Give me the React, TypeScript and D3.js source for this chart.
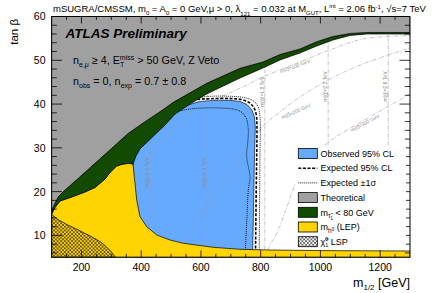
import React, { useRef, useEffect } from 'react';
import * as d3 from 'd3';

type Pt = [number, number]; // [m1/2 (GeV), tan beta]

const xTicks = [200, 400, 600, 800, 1000, 1200];
const yTicks = [10, 20, 30, 40, 50, 60];

// upper edge of the stau < 80 GeV band (above it: theoretically excluded)
const greenUpper: Pt[] = [
    [100, 15.42], [105.7, 16.56], [122.4, 18.84], [144.9, 20.37], [189.4, 23.04], [245.3, 26.47],
    [301.2, 29.9], [356.8, 33.32], [412.7, 35.97], [479.7, 39.03], [507.4, 40.4], [619.3, 44.74],
    [730.8, 48.17], [807.8, 49.61], [864.7, 51.32], [931.7, 52.58], [987.6, 54.24], [1042, 55.43],
    [1099, 56.12], [1155, 56.35], [1300, 56.35],
];

// lower edge of the stau band
const greenLower: Pt[] = [
    [100, 14.89], [111.4, 16.37], [128.1, 17.86], [167.3, 18.77], [211.8, 19.92], [245.3, 20.94],
    [278.8, 22.88], [295.5, 24.37], [318, 25.85], [335.7, 26.24], [356.8, 26.47], [372.5, 26.31],
    [382.6, 28.14], [396, 29.74], [439.5, 32.59], [479.7, 35.22], [513.7, 37.73], [563.9, 40.02],
    [619.3, 42.3], [730.8, 45.95], [807.8, 48.24], [864.7, 50.07], [931.7, 51.66], [987.6, 53.26],
    [1042, 54.63], [1099, 55.66], [1155, 56.0], [1300, 56.0],
];

// LEP higgs limit, edge from the stau band down to the right frame
const lepEdge: Pt[] = [
    [376.9, 23.41], [384.9, 18.09], [396, 14.27], [418.4, 11.99], [451.9, 10.09], [496.4, 8.95],
    [540.9, 8.2], [641.4, 7.28], [730.8, 6.83], [831.2, 6.67], [998.6, 6.53], [1300, 6.44],
];

// neutralino LSP region edge
const lspEdge: Pt[] = [
    [100, 14.78], [121.4, 13.63], [150.6, 12.49], [189.4, 11.24], [228.6, 9.87], [262, 8.61],
    [282.1, 7.47], [298.9, 6.32], [313.9, 5],
];

// observed 95% CL excluded region
const observed: Pt[] = [
    [372.5, 26.6], [382.6, 28.5], [396, 30.1], [439.5, 33.0], [479.7, 35.6], [513.7, 38.1],
    [546.6, 39.6], [596.8, 40.59], [647, 40.86], [697.3, 40.86], [730.8, 40.59], [754.3, 39.9],
    [770.6, 38.64], [779.3, 37.05], [782, 34.76], [780.3, 30.65], [778.3, 24.94], [776.6, 18.09],
    [774.6, 11.24], [773.3, 6.9], [773.3, 5], [372.5, 5],
];

const expected: Pt[] = [
    [546.6, 39.67], [580.1, 40.93], [630.3, 41.22], [697.3, 41.27], [737.5, 41.0], [762.3, 40.3],
    [778, 39.1], [786, 37.27], [787.5, 34.76], [787, 29.51], [785.5, 22.66], [784.3, 15.8],
    [783.2, 8.95], [782.8, 5],
];

const expectedUp: Pt[] = [
    [563.9, 40.93], [614.1, 41.68], [697.3, 41.78], [747.5, 41.45], [776, 40.7], [791.5, 39.33],
    [797.5, 37.27], [799, 34.76], [797.8, 29.51], [797, 22.66], [796.2, 15.8], [795.4, 8.95],
    [795, 5],
];

const expectedDown: Pt[] = [
    [496.4, 37.96], [563.9, 38.87], [607.4, 39.1], [664.3, 39.1], [714.5, 38.76], [737.5, 38.07],
    [752.5, 36.59], [758.6, 34.08], [757.5, 31.79], [753.2, 27.98], [764.2, 23.41], [758.6, 20.37],
    [753.2, 12.83], [749.2, 7.35], [747.5, 5],
];

// iso-mass contours
const gluinoMass = [430, 621, 814, 1026, 1227];
const gluinoText = ['m(g\u0303)=1.0 TeV', 'm(g\u0303)=1.4 TeV', 'm(g\u0303)=1.8 TeV', 'm(g\u0303)=2.2 TeV', 'm(g\u0303)=2.6 TeV'];
const gluinoTextTb = [24.3, 24.3, 42.8, 44.0, 44.0];

const slepton100: Pt[] = [
    [372.5, 24.03], [422.7, 28.37], [473, 31.79], [529.9, 36.36], [586.8, 39.33], [663.8, 41.61],
    [730.8, 43.6], [807.8, 46.18], [921.6, 49.38], [1032.1, 52.35], [1142.6, 54.86], [1300, 55.66],
];
const slepton200: Pt[] = [
    [540, 7.81], [580.1, 12.38], [630.3, 18.09], [680.5, 23.11], [730.8, 27.68], [781, 32.48],
    [814.5, 35.45], [864.7, 38.19], [921.6, 41.16], [1032.1, 45.73], [1142.6, 49.15], [1300, 52.81],
];
const slepton300: Pt[] = [
    [814.5, 5], [831.2, 7.81], [854.6, 10.55], [888.1, 16.49], [914.9, 21.51], [975.2, 27.91],
    [1032.1, 31.56], [1142.6, 36.13], [1300, 42.3],
];
const sleptonText = ['m(\u2113\u0303)=100 GeV', 'm(\u2113\u0303)=200 GeV', 'm(\u2113\u0303)=300 GeV'];
const sleptonTextPos: Pt[] = [[915, 48.7], [918, 38.4], [1149, 35.7]];
const sleptonTextAngle = [-20, -24, -28];

type Part = { t: string; off?: number; fs?: number; dx?: number };

const legendLabels: Part[][] = [
    [{ t: 'Observed 95% CL' }],
    [{ t: 'Expected 95% CL' }],
    [{ t: 'Expected \u00b11\u03c3' }],
    [{ t: 'Theoretical' }],
    [{ t: 'm' }, { t: '\u03c4\u0303', off: 2.5, fs: 6.5 }, { t: '1', off: 4, fs: 4.5 }, { t: ' < 80 GeV' }],
    [{ t: 'm' }, { t: 'h', off: 2.5, fs: 6.5 }, { t: '0', off: 0.5, fs: 4.5 }, { t: ' (LEP)' }],
    [{ t: '\u03c7\u0303' }, { t: '0', off: -3.5, fs: 5.5 }, { t: '1', off: 2.5, fs: 5.5, dx: -3 }, { t: ' LSP' }],
];

const COL_GRAY = '#a0a0a0';
const COL_GREEN = '#124a00';
const COL_BLUE = '#66aaff';
const COL_YELLOW = '#ffd400';

function rich(sel: d3.Selection<SVGTextElement, unknown, null, undefined>, parts: Part[]) {
    let prev = 0;
    parts.forEach(p => {
        const off = p.off ?? 0;
        const ts = sel.append('tspan').attr('dy', off - prev).text(p.t);
        if (p.fs) ts.attr('font-size', p.fs);
        if (p.dx) ts.attr('dx', p.dx);
        prev = off;
    });
}

const App: React.FC = () => {
    const svgRef = useRef<SVGSVGElement | null>(null);

    useEffect(() => {
        const svg = d3.select(svgRef.current);
        svg.selectAll('*').remove();

        const left = 51.6, right = 410, top = 16.5, bottom = 257.3;
        const x = d3.scaleLinear().domain([100, 1300]).range([left, right]);
        const y = d3.scaleLinear().domain([5, 60]).range([bottom, top]);

        const defs = svg.append('defs');
        defs.append('clipPath').attr('id', 'plotclip')
            .append('rect').attr('x', left).attr('y', top).attr('width', right - left).attr('height', bottom - top);
        const hw = 3.6;
        defs.append('pattern').attr('id', 'hatch').attr('patternUnits', 'userSpaceOnUse')
            .attr('width', hw).attr('height', hw)
            .append('path').attr('d', `M0,0L${hw},${hw}M${hw},0L0,${hw}`)
            .attr('stroke', '#000').attr('stroke-width', 0.55);

        const poly = d3.line<Pt>().x(d => x(d[0])).y(d => y(d[1]));
        const smooth = d3.line<Pt>().x(d => x(d[0])).y(d => y(d[1])).curve(d3.curveCatmullRom.alpha(0.5));

        const g = svg.append('g').attr('clip-path', 'url(#plotclip)');
        g.append('rect').attr('x', left).attr('y', top).attr('width', right - left).attr('height', bottom - top).attr('fill', '#fff');

        // observed exclusion
        g.append('path').attr('d', poly(observed) + 'Z')
            .attr('fill', COL_BLUE).attr('stroke', '#1b2a4a').attr('stroke-width', 0.8);

        // iso-mass lines
        const contour = { stroke: '#9a9a9a', width: 0.6, dash: '4,1.5,1,1.5' };
        g.selectAll('.gluino').data(gluinoMass).enter().append('line')
            .attr('x1', d => x(d)).attr('x2', d => x(d))
            .attr('y1', y(5)).attr('y2', y(60))
            .attr('stroke', contour.stroke).attr('stroke-width', contour.width).attr('stroke-dasharray', contour.dash);
        [slepton100, slepton200, slepton300].forEach(c => {
            g.append('path').attr('d', smooth(c)).attr('fill', 'none')
                .attr('stroke', contour.stroke).attr('stroke-width', contour.width).attr('stroke-dasharray', contour.dash);
        });
        gluinoMass.forEach((m, i) => {
            g.append('text')
                .attr('transform', `translate(${x(m) - 1},${y(gluinoTextTb[i])}) rotate(-90)`)
                .attr('text-anchor', 'middle').attr('font-size', 5).attr('fill', '#8c8c8c')
                .text(gluinoText[i]);
        });
        sleptonText.forEach((t, i) => {
            g.append('text')
                .attr('transform', `translate(${x(sleptonTextPos[i][0])},${y(sleptonTextPos[i][1])}) rotate(${sleptonTextAngle[i]})`)
                .attr('text-anchor', 'middle').attr('dominant-baseline', 'central')
                .attr('font-size', 5).attr('fill', '#8c8c8c')
                .text(t);
        });

        // expected limits
        g.append('path').attr('d', smooth(expectedUp)).attr('fill', 'none')
            .attr('stroke', '#000').attr('stroke-width', 0.9).attr('stroke-dasharray', '1,1');
        g.append('path').attr('d', smooth(expectedDown)).attr('fill', 'none')
            .attr('stroke', '#000').attr('stroke-width', 0.9).attr('stroke-dasharray', '1,1');
        g.append('path').attr('d', smooth(expected)).attr('fill', 'none')
            .attr('stroke', '#000').attr('stroke-width', 1.6).attr('stroke-dasharray', '3,1.6');

        // LEP higgs
        const yellow: Pt[] = [...greenLower.slice(0, 12), ...lepEdge, [1300, 5], [100, 5]];
        g.append('path').attr('d', poly(yellow) + 'Z')
            .attr('fill', COL_YELLOW).attr('stroke', '#000').attr('stroke-width', 0.7);

        // LSP
        const lsp: Pt[] = [...lspEdge, [100, 5]];
        g.append('path').attr('d', poly(lsp) + 'Z').attr('fill', 'url(#hatch)')
            .attr('stroke', '#000').attr('stroke-width', 0.7);

        // stau band
        const green: Pt[] = [...greenUpper, ...greenLower.slice().reverse()];
        g.append('path').attr('d', poly(green) + 'Z')
            .attr('fill', COL_GREEN).attr('stroke', '#000').attr('stroke-width', 0.7);

        // theoretically excluded
        const gray: Pt[] = [[100, 60], [1300, 60], ...greenUpper.slice().reverse()];
        g.append('path').attr('d', poly(gray) + 'Z')
            .attr('fill', COL_GRAY).attr('stroke', '#000').attr('stroke-width', 0.7);

        // frame and ticks
        const axes = svg.append('g').attr('stroke', '#000').attr('stroke-width', 0.8);
        axes.append('rect').attr('x', left).attr('y', top).attr('width', right - left).attr('height', bottom - top)
            .attr('fill', 'none').attr('stroke-width', 1);
        const xMinor = d3.range(150, 1300, 50).filter(v => v % 200 !== 0);
        const yMinor = d3.range(6, 60, 2).filter(v => v % 10 !== 0);
        const xt = [...xTicks.map(v => ({ v, l: 7 })), ...xMinor.map(v => ({ v, l: 3.5 }))];
        const yt = [...yTicks.map(v => ({ v, l: 10.5 })), ...yMinor.map(v => ({ v, l: 5.2 }))];
        xt.forEach(t => {
            axes.append('line').attr('x1', x(t.v)).attr('x2', x(t.v)).attr('y1', bottom).attr('y2', bottom - t.l);
            axes.append('line').attr('x1', x(t.v)).attr('x2', x(t.v)).attr('y1', top).attr('y2', top + t.l);
        });
        yt.forEach(t => {
            axes.append('line').attr('x1', left).attr('x2', left + t.l).attr('y1', y(t.v)).attr('y2', y(t.v));
            axes.append('line').attr('x1', right).attr('x2', right - t.l).attr('y1', y(t.v)).attr('y2', y(t.v));
        });

        svg.selectAll('.xl').data(xTicks).enter().append('text')
            .attr('x', d => x(d)).attr('y', 270.5).attr('text-anchor', 'middle')
            .attr('font-size', 10.5).text(d => d);
        svg.selectAll('.yl').data(yTicks).enter().append('text')
            .attr('x', 45.5).attr('y', d => y(d) + 3.9).attr('text-anchor', 'end')
            .attr('font-size', 10.5).text(d => d);

        // axis titles
        const xTitle = svg.append('text').attr('x', 410).attr('y', 286.5).attr('text-anchor', 'end').attr('font-size', 12.5);
        rich(xTitle, [{ t: 'm' }, { t: '1/2', off: 3, fs: 8 }, { t: ' [GeV]' }]);
        svg.append('text').attr('transform', 'translate(17.5,19) rotate(-90)')
            .attr('text-anchor', 'end').attr('font-size', 11.5).text('tan \u03b2');

        // title
        const title = svg.append('text').attr('x', 53).attr('y', 12).attr('font-size', 9.5);
        rich(title, [
            { t: 'mSUGRA/CMSSM, m' }, { t: '0', off: 3, fs: 6 }, { t: ' = A' }, { t: '0', off: 3, fs: 6 },
            { t: ' = 0 GeV,\u03bc > 0,  \u03bb' }, { t: '121', off: 4, fs: 6 }, { t: ' = 0.032 at M' },
            { t: 'GUT', off: 3, fs: 6 }, { t: ',  L' }, { t: 'int', off: -4, fs: 6 }, { t: ' = 2.06 fb' },
            { t: '-1', off: -3.5, fs: 6 }, { t: ', \u221as=7 TeV' },
        ]);

        svg.append('text').attr('x', 65.5).attr('y', 37.5).attr('font-size', 13.5)
            .attr('font-weight', 'bold').attr('font-style', 'italic').text('ATLAS Preliminary');
        const l1 = svg.append('text').attr('x', 73).attr('y', 64).attr('font-size', 10.8);
        rich(l1, [
            { t: 'n' }, { t: 'e,\u03bc', off: 3, fs: 7 }, { t: ' \u2265 4, E' }, { t: 'T', off: 3, fs: 7 },
            { t: 'miss', off: -4.5, fs: 7, dx: -4.5 }, { t: ' > 50 GeV, Z Veto' },
        ]);
        const l2 = svg.append('text').attr('x', 73).attr('y', 84.5).attr('font-size', 10.8);
        rich(l2, [
            { t: 'n' }, { t: 'obs', off: 3, fs: 7 }, { t: ' = 0, n' }, { t: 'exp', off: 3, fs: 7 },
            { t: ' = 0.7 \u00b1 0.8' },
        ]);

        // legend
        const lg = svg.append('g');
        lg.append('rect').attr('x', 295).attr('y', 145).attr('width', 111).attr('height', 103.5).attr('fill', '#fff');
        const bx = 298.3, bw = 19, bh = 10;
        const rowY = (i: number) => 153.5 + i * 14.7;
        const boxes: (string | null)[] = [COL_BLUE, null, null, COL_GRAY, COL_GREEN, COL_YELLOW, 'url(#hatch)'];
        boxes.forEach((fill, i) => {
            if (fill) {
                lg.append('rect').attr('x', bx).attr('y', rowY(i) - bh / 2).attr('width', bw).attr('height', bh)
                    .attr('fill', fill).attr('stroke', '#000').attr('stroke-width', 0.8);
            }
        });
        lg.append('line').attr('x1', bx).attr('x2', bx + bw).attr('y1', rowY(1)).attr('y2', rowY(1))
            .attr('stroke', '#000').attr('stroke-width', 1.6).attr('stroke-dasharray', '3,1.6');
        lg.append('line').attr('x1', bx).attr('x2', bx + bw).attr('y1', rowY(2)).attr('y2', rowY(2))
            .attr('stroke', '#000').attr('stroke-width', 0.9).attr('stroke-dasharray', '1,1');
        legendLabels.forEach((parts, i) => {
            const t = lg.append('text').attr('x', 320.5).attr('y', rowY(i) + 3.2).attr('font-size', 9);
            rich(t, parts);
        });
    }, []);

    return (
        <svg
            ref={svgRef}
            width={432}
            height={293}
            style={{ position: 'fixed', left: 0, top: 0, background: '#fff', whiteSpace: 'pre', fontFamily: '"Liberation Sans", Arial, Helvetica, sans-serif' }}
        ></svg>
    );
};

export default App;
